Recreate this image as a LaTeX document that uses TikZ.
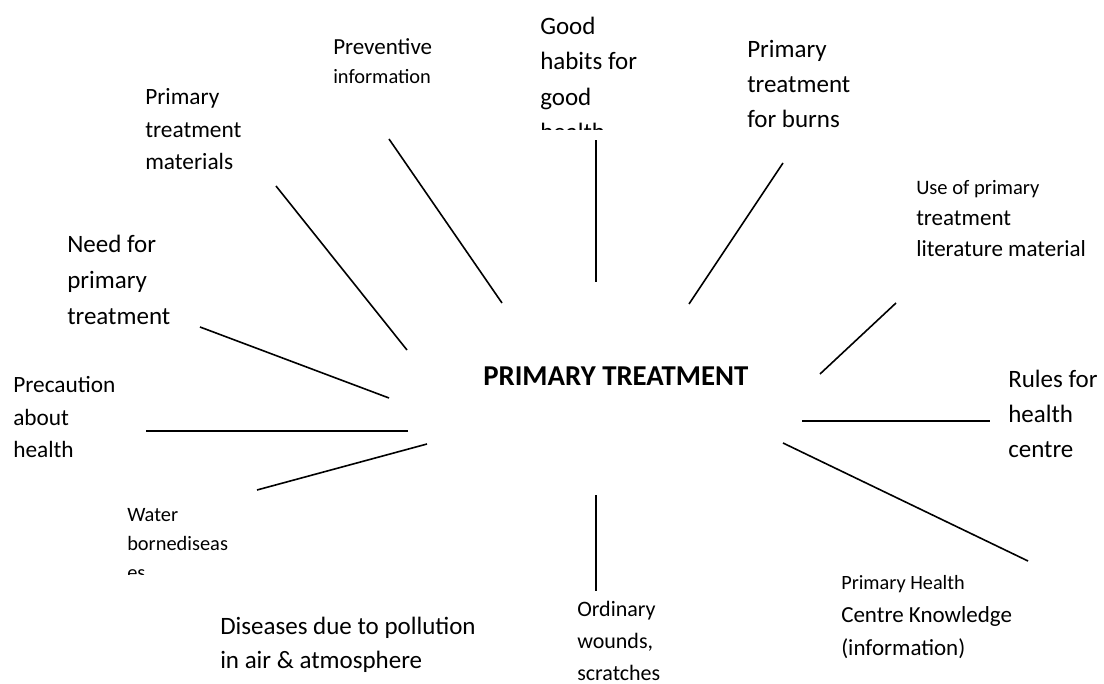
\documentclass[tikz,border=0pt]{standalone}
\usepackage{fontspec}
\setmainfont{Carlito}

\tikzset{
  spoke/.style={line width=1.2pt},
  lbl/.style={anchor=base west, inner sep=0pt, align=left}
}

\begin{document}
\begin{tikzpicture}[x=0.75pt,y=0.75pt,yscale=-1,xscale=1]
\useasboundingbox (0,0) rectangle (1104,684);

% spoke ends
\coordinate (matIn) at (407,350);   \coordinate (matOut) at (276,186);
\coordinate (prevIn) at (502,303);  \coordinate (prevOut) at (389,139);
\coordinate (goodIn) at (596,282);  \coordinate (goodOut) at (596,140);
\coordinate (burnIn) at (689,304);  \coordinate (burnOut) at (783,163);
\coordinate (litIn) at (820,374);   \coordinate (litOut) at (896,303);
\coordinate (rulesIn) at (802,421); \coordinate (rulesOut) at (990,421);
\coordinate (phcIn) at (783,443);   \coordinate (phcOut) at (1028,561);
\coordinate (ordIn) at (596,495);   \coordinate (ordOut) at (596,591);
\coordinate (waterIn) at (427,444); \coordinate (waterOut) at (257,490);
\coordinate (precIn) at (408,431);  \coordinate (precOut) at (146,431);
\coordinate (needIn) at (389,398);  \coordinate (needOut) at (200,327);

%Straight Lines
\draw [spoke] (matIn) -- (matOut);
\draw [spoke] (prevIn) -- (prevOut);
\draw [spoke] (goodIn) -- (goodOut);
\draw [spoke] (burnIn) -- (burnOut);
\draw [spoke] (litIn) -- (litOut);
\draw [spoke] (rulesIn) -- (rulesOut);
\draw [spoke] (phcIn) -- (phcOut);
\draw [spoke] (ordIn) -- (ordOut);
\draw [spoke] (waterIn) -- (waterOut);
\draw [spoke] (precIn) -- (precOut);
\draw [spoke] (needIn) -- (needOut);

% Text Node (base = last line)
\draw (483,386) node (hub) [lbl] [font=\fontsize{21.6}{25}\selectfont\bfseries] {PRIMARY TREATMENT};
% Text Node
\draw (333,84) node (prev) [lbl] [font=\fontsize{15.3}{21.75}\selectfont] {{\fontsize{17.25}{21.75}\selectfont Preventive}\\information};
% Text Node (cut off by its box)
\begin{scope}
\clip (520,0) rectangle (720,130);
\draw (540,140.5) node (good) [lbl] [font=\fontsize{18.75}{26.6}\selectfont] {Good\\habits for\\good\\health};
\end{scope}
% Text Node
\draw (747,128) node (burn) [lbl] [font=\fontsize{18.75}{26.25}\selectfont] {Primary\\treatment\\for burns};
% Text Node
\draw (145,170) node (mat) [lbl] [font=\fontsize{17.5}{24.4}\selectfont] {Primary\\treatment\\materials};
% Text Node
\draw (916,257) node (lit) [lbl] [font=\fontsize{17.25}{23.25}\selectfont] {{\fontsize{15.4}{23.25}\selectfont Use of primary}\\treatment\\literature material};
% Text Node
\draw (67,325) node (need) [lbl] [font=\fontsize{18.75}{27}\selectfont] {Need for\\primary\\treatment};
% Text Node
\draw (1008,457) node (rules) [lbl] [font=\fontsize{18.75}{26.25}\selectfont] {Rules for\\health\\centre};
% Text Node
\draw (13,457) node (prec) [lbl] [font=\fontsize{17.5}{24}\selectfont] {Precaution\\about\\health};
% Text Node (cut off by its box)
\begin{scope}
\clip (100,490) rectangle (300,574);
\draw (127,579) node (water) [lbl] [font=\fontsize{15.3}{21.75}\selectfont] {Water\\bornediseas\\es};
\end{scope}
% Text Node
\draw (220,668) node (dis) [lbl] [font=\fontsize{18.75}{25.5}\selectfont] {Diseases due to pollution\\in air \& atmosphere};
% Text Node
\draw (577,680) node (ord) [lbl] [font=\fontsize{16.5}{24}\selectfont] {Ordinary\\wounds,\\scratches};
% Text Node
\draw (841,655) node (phc) [lbl] [font=\fontsize{17.25}{24.75}\selectfont] {{\fontsize{15.2}{24.75}\selectfont Primary Health}\\Centre Knowledge\\(information)};

\end{tikzpicture}
\end{document}
